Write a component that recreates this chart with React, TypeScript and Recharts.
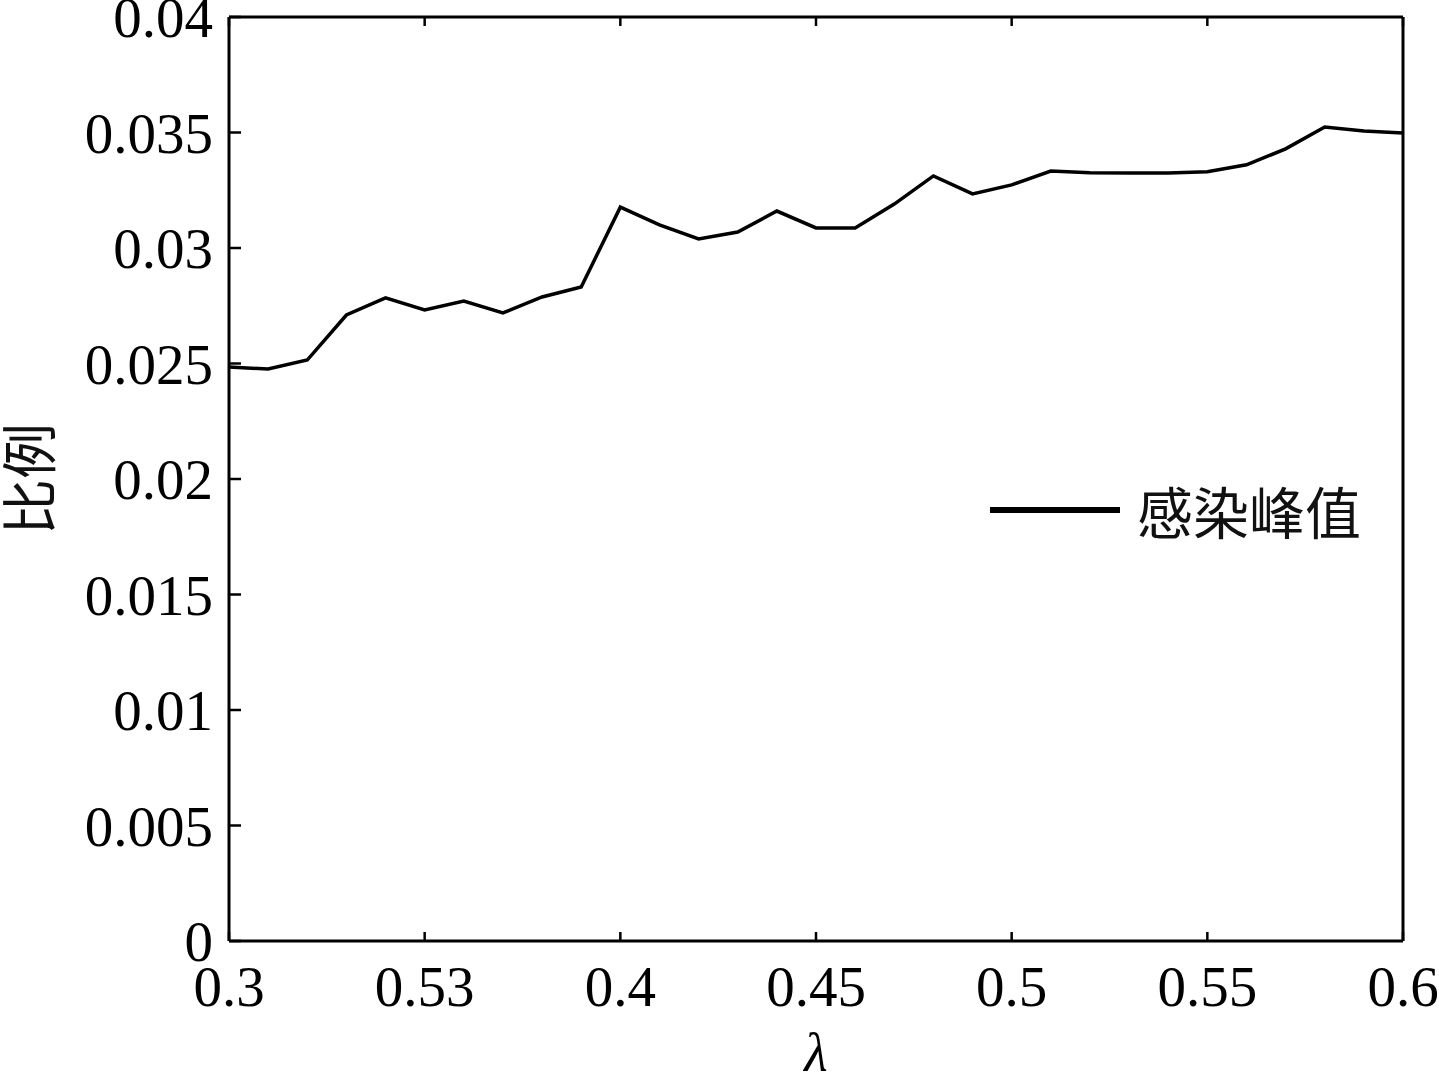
import { LineChart, Line, XAxis, YAxis, Legend } from 'recharts';

const lambdas = [
  0.3, 0.31, 0.32, 0.33, 0.34, 0.35, 0.36, 0.37, 0.38, 0.39, 0.4, 0.41, 0.42, 0.43, 0.44, 0.45,
  0.46, 0.47, 0.48, 0.49, 0.5, 0.51, 0.52, 0.53, 0.54, 0.55, 0.56, 0.57, 0.58, 0.59, 0.6,
];
const peakRatio = [
  0.02485, 0.02476, 0.02515, 0.0271, 0.02784, 0.02732, 0.0277, 0.02719, 0.02788, 0.02831,
  0.03177, 0.031, 0.03039, 0.03069, 0.0316, 0.03087, 0.03087, 0.0319, 0.03312, 0.03234,
  0.03273, 0.03333, 0.03326, 0.03325, 0.03325, 0.0333, 0.0336, 0.03429, 0.03524, 0.03506,
  0.03498,
];
const xTicks = [0.3, 0.35, 0.4, 0.45, 0.5, 0.55, 0.6];
// the original figure labels 0.35 as "0.53"
const xTickLabels = ['0.3', '0.53', '0.4', '0.45', '0.5', '0.55', '0.6'];
const yTicks = [0, 0.005, 0.01, 0.015, 0.02, 0.025, 0.03, 0.035, 0.04];

const data = lambdas.map((l, i) => ({ lambda: l, value: peakRatio[i] }));

const SERIF = '"Liberation Serif", "DejaVu Serif", serif';
const CJK = '"Noto Sans CJK SC", sans-serif';

function LegendContent() {
  return (
    <div style={{ display: 'flex', alignItems: 'center' }}>
      <div style={{ width: 130, height: 6, background: '#000', marginRight: 17 }} />
      <span style={{ fontFamily: CJK, fontSize: 56, color: '#111', lineHeight: '64px' }}>
        感染峰值
      </span>
    </div>
  );
}

export default function App() {
  const axisStroke = { stroke: '#000', strokeWidth: 3 };
  const tickStroke = { stroke: '#000', strokeWidth: 2.5 };
  const blank = () => '';
  return (
    <div style={{ position: 'absolute', left: 0, top: 0, background: '#fff' }}>
      <LineChart
        width={1439}
        height={1073}
        data={data}
        margin={{ top: 16, right: 0, left: 0, bottom: 0 }}
      >
        <XAxis
          dataKey="lambda"
          type="number"
          domain={[0.3, 0.6]}
          ticks={xTicks}
          tickFormatter={(v: number) => xTickLabels[xTicks.indexOf(v)] ?? String(v)}
          height={132}
          axisLine={axisStroke}
          tickLine={tickStroke}
          tickSize={-9}
          tickMargin={24}
          tick={{ fill: '#000', fontFamily: SERIF, fontSize: 57, dy: 10 }}
          label={{
            value: 'λ',
            position: 'insideBottom',
            offset: 2,
            style: { fontFamily: SERIF, fontStyle: 'italic', fontSize: 54, fill: '#000' },
          }}
        />
        <XAxis
          xAxisId="top"
          dataKey="lambda"
          type="number"
          orientation="top"
          domain={[0.3, 0.6]}
          ticks={xTicks}
          height={1}
          axisLine={axisStroke}
          tickLine={tickStroke}
          tickSize={-9}
          tickFormatter={blank}
        />
        <YAxis
          type="number"
          domain={[0, 0.04]}
          ticks={yTicks}
          interval={0}
          width={229}
          axisLine={axisStroke}
          tickLine={tickStroke}
          tickSize={-12}
          tickMargin={28}
          tick={{ fill: '#000', fontFamily: SERIF, fontSize: 57 }}
          label={{
            value: '比例',
            angle: -90,
            position: 'insideLeft',
            offset: 0,
            dx: 30,
            style: { fontFamily: CJK, fontSize: 56, fill: '#111', textAnchor: 'middle' },
          }}
        />
        <YAxis
          yAxisId="right"
          orientation="right"
          type="number"
          domain={[0, 0.04]}
          ticks={yTicks}
          interval={0}
          width={36}
          axisLine={axisStroke}
          tickLine={tickStroke}
          tickSize={-12}
          tickFormatter={blank}
        />
        <Legend
          content={<LegendContent />}
          layout="horizontal"
          verticalAlign="middle"
          align="center"
          wrapperStyle={{ left: 990, top: 478, width: 420 }}
        />
        <Line
          dataKey="value"
          type="linear"
          stroke="#000"
          strokeWidth={3.5}
          dot={false}
          isAnimationActive={false}
        />
      </LineChart>
    </div>
  );
}
